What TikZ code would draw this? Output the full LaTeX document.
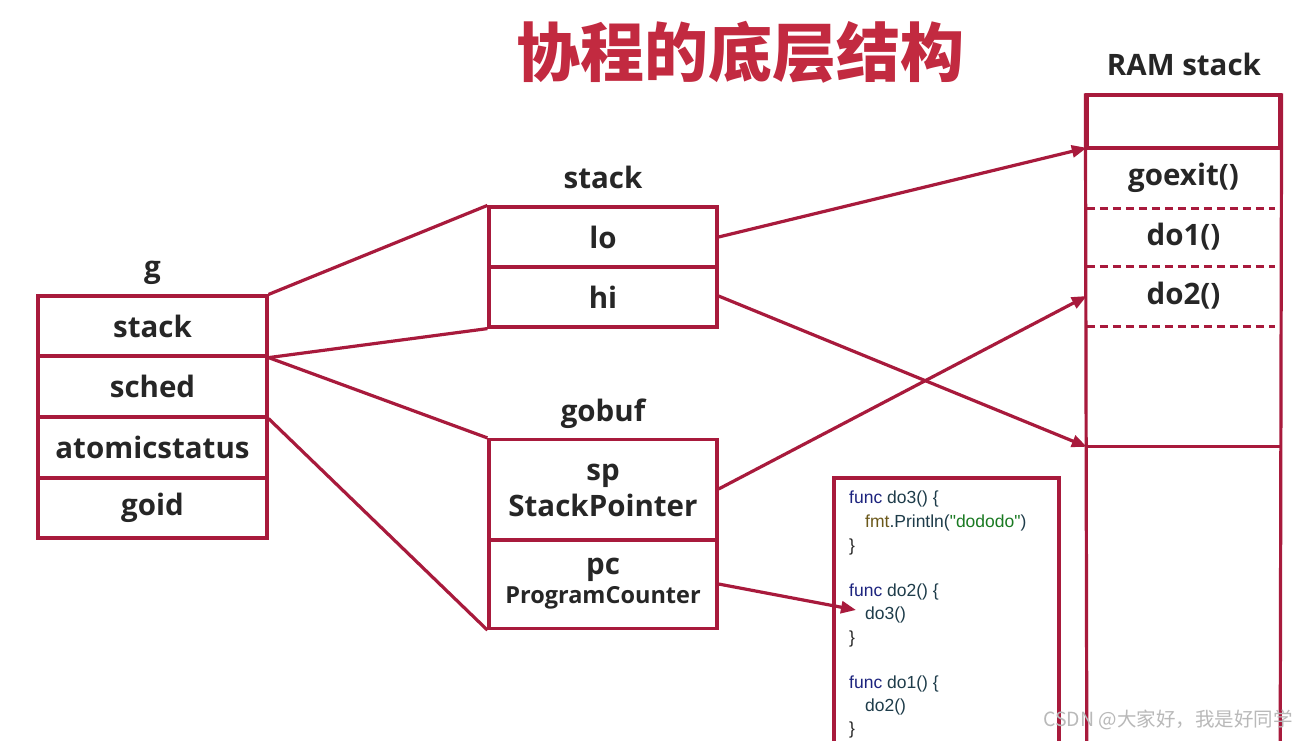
\documentclass[tikz,border=0pt]{standalone}
\usepackage{fontspec}
\setmainfont{Open Sans}
\newfontfamily\cjk{Noto Sans CJK SC}
\newfontfamily\codefont{Liberation Sans}
\usetikzlibrary{arrows.meta}
\definecolor{dred}{HTML}{A81A3C}
\definecolor{tred}{HTML}{C22A40}
\definecolor{ink}{HTML}{262626}
\definecolor{kw}{HTML}{1C237E}
\definecolor{fn}{HTML}{1E3C4A}
\definecolor{pkg}{HTML}{6B581A}
\definecolor{str}{HTML}{1A7A22}
\begin{document}
\begin{tikzpicture}[x=1pt,y=-1pt,
  big/.style={font=\bfseries\fontsize{29.5}{32}\selectfont},
  cell/.style={draw=dred, line width=3.2pt, minimum width=229pt, inner sep=0pt,
    big, text=ink, align=center},
  lbl/.style={big, text=ink, inner sep=0pt, anchor=base},
  ramtxt/.style={big, text=ink, inner sep=0pt, minimum width=193pt},
  link/.style={draw=dred, line width=3.2pt},
  arr/.style={draw=dred, line width=3.2pt, -{Triangle[length=15pt,width=12pt]}},
  dashsep/.style={draw=dred, line width=2.8pt, dash pattern=on 8pt off 5pt},
  code/.style={font=\codefont\fontsize{17.5}{20}\selectfont, anchor=base west, inner sep=0pt, text=ink}
]
\useasboundingbox[fill=white] (0,0) rectangle (1309,740);

% title
\node[font=\cjk\bfseries\fontsize{64}{68}\selectfont, text=tred, inner sep=0pt] (title) at (740,52) {协程的底层结构};

% g struct
\node[lbl] (glbl) at (152.5,277) {g};
\node[cell, minimum height=60pt] (gstack) at (152.5,326) {stack};
\node[cell, minimum height=61pt] (gsched) at (152.5,386.5) {sched};
\node[cell, minimum height=61pt] (gatom) at (152.5,447.5) {atomicstatus};
\node[cell, minimum height=60pt] (goid) at (152.5,508) {goid};

% stack struct
\node[lbl] (slbl) at (603,188) {stack};
\node[cell, minimum height=60pt, minimum width=228pt] (lo) at (603,237) {lo};
\node[cell, minimum height=60pt, minimum width=228pt] (hi) at (603,297) {hi};

% gobuf struct
\node[lbl] (blbl) at (603,421) {gobuf};
\node[cell, minimum height=101pt, minimum width=228pt] (sp) at (603,490) {sp\\[4pt]StackPointer};
\node[cell, minimum height=89pt, minimum width=228pt, font=\bfseries\fontsize{23.5}{25}\selectfont] (pc) at (603,584) {{\fontsize{29.5}{30}\selectfont pc}\\[4pt]ProgramCounter};

% RAM stack
\node[lbl] (rlbl) at (1184,75) {RAM stack};
\node[draw=dred, line width=3.2pt, minimum width=193pt, minimum height=53pt, inner sep=0pt] (ram0) at (1183.5,121.5) {};
\node[ramtxt, minimum height=60pt] (ramgo) at (1183.5,178) {goexit()};
\node[ramtxt, minimum height=58pt] (ramdo1) at (1183.5,237) {do1()};
\node[ramtxt, minimum height=60pt] (ramdo2) at (1183.5,296) {do2()};
\node[inner sep=0pt, minimum width=193pt, minimum height=121pt] (ramfree) at (1183.5,386.5) {};
\node[inner sep=0pt, minimum width=193pt, minimum height=300pt] (rambot) at (1183.5,597) {};
\draw[link] (ram0.north west) -- (rambot.south west);
\draw[link] (ram0.north east) -- (rambot.south east);
\draw[dashsep] (ramgo.south west) -- ([xshift=-5pt]ramgo.south east);
\draw[dashsep] (ramdo1.south west) -- ([xshift=-5pt]ramdo1.south east);
\draw[dashsep] (ramdo2.south west) -- ([xshift=-5pt]ramdo2.south east);
\draw[link] (rambot.north west) -- (rambot.north east);

% code box
\node[draw=dred, line width=3.2pt, minimum width=225pt, minimum height=280pt, inner sep=0pt] (codebox) at (946.5,618) {};
\node[code] (c1) at (849,503) {\textcolor{kw}{func} \textcolor{fn}{do3() \{}};
\node[code] (c2) at (865,527) {\textcolor{pkg}{fmt}\textcolor{fn}{.Println(}\textcolor{str}{"dododo"}\textcolor{fn}{)}};
\node[code] (c3) at (849,551) {\}};
\node[code] (c4) at (849,596) {\textcolor{kw}{func} \textcolor{fn}{do2() \{}};
\node[code] (c5) at (865,619) {\textcolor{fn}{do3()}};
\node[code] (c6) at (849,643) {\}};
\node[code] (c7) at (849,688) {\textcolor{kw}{func} \textcolor{fn}{do1() \{}};
\node[code] (c8) at (865,711) {\textcolor{fn}{do2()}};
\node[code] (c9) at (849,734) {\}};

% links g -> stack, gobuf
\draw[link] (gstack.north east) -- (lo.north west);
\draw[link] (gstack.south east) -- (hi.south west);
\draw[link] (gstack.south east) -- (sp.north west);
\draw[link] (gsched.south east) -- (pc.south west);

% arrows to RAM stack / code
\draw[arr] (lo.east) -- (ramgo.north west);
\draw[arr] ([yshift=1pt]hi.east) -- (rambot.north west);
\draw[arr] ([yshift=1pt]sp.east) -- (ramdo2.west);
\draw[arr] (pc.east) -- ([xshift=-9pt,yshift=9pt]c5.base west);

% watermark
\node[font=\cjk\fontsize{19.5}{21}\selectfont, text=gray!55, anchor=west, inner sep=0pt] (wm) at (1043,720) {CSDN @大家好，我是好同学};
\end{tikzpicture}
\end{document}
